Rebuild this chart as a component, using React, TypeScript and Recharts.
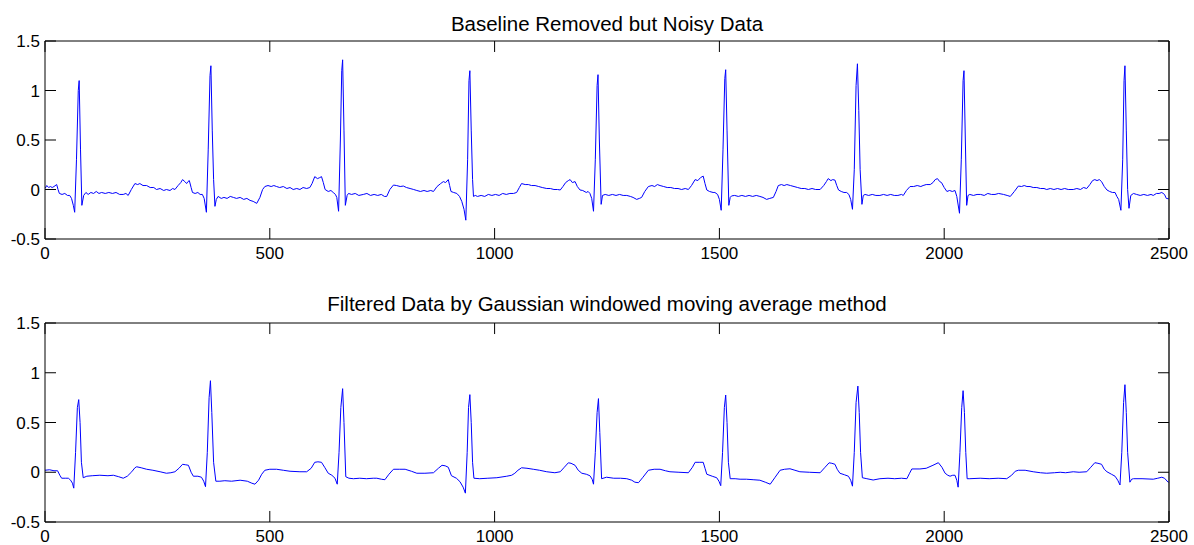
import React from 'react';
import { LineChart, Line, XAxis, YAxis, ReferenceLine } from 'recharts';

// sample index / amplitude pairs
const noisyPts: [number, number][] = [
  [0, 0.01], [4, 0.04], [8, 0.02], [12, 0.03], [16, 0.02], [20, 0.03], [26, 0.05], [29, 0.0], [32, -0.04], [38, -0.05],
  [44, -0.04], [50, -0.06], [55, -0.06], [59, -0.09], [63, -0.16], [66, -0.23], [70, 0.3], [74, 1.0], [76, 1.1], [79, 0.4],
  [82, -0.16], [86, -0.06], [91, -0.03], [96, -0.05], [102, -0.03], [108, -0.04], [114, -0.02], [120, -0.04], [126, -0.03], [134, -0.04],
  [142, -0.03], [150, -0.04], [158, -0.03], [166, -0.05], [174, -0.05], [180, -0.04], [185, -0.06], [192, 0.0], [200, 0.06], [206, 0.05],
  [211, 0.06], [218, 0.04], [226, 0.04], [234, 0.02], [242, 0.02], [248, 0.0], [256, 0.01], [264, -0.01], [270, 0.0], [278, -0.01],
  [284, 0.01], [289, 0.0], [296, 0.04], [302, 0.07], [306, 0.1], [311, 0.08], [315, 0.06], [318, 0.08], [321, 0.09], [325, 0.02],
  [328, -0.03], [334, -0.04], [340, -0.03], [345, -0.05], [350, -0.05], [354, -0.09], [359, -0.23], [363, 0.4], [367, 1.15], [369, 1.25],
  [372, 0.6], [375, 0.1], [378, -0.17], [381, -0.1], [385, -0.07], [392, -0.09], [398, -0.08], [405, -0.09], [412, -0.07], [419, -0.08],
  [426, -0.09], [434, -0.08], [442, -0.1], [449, -0.09], [456, -0.11], [463, -0.12], [471, -0.14], [478, -0.08], [484, 0.0], [489, 0.03],
  [496, 0.04], [503, 0.03], [509, 0.04], [515, 0.03], [522, 0.02], [530, 0.03], [538, 0.01], [545, 0.02], [552, 0.0], [560, 0.01],
  [567, 0.0], [574, 0.02], [582, 0.01], [589, 0.02], [594, 0.06], [600, 0.13], [606, 0.11], [611, 0.12], [615, 0.13], [619, 0.07],
  [623, 0.0], [630, -0.02], [636, -0.01], [641, -0.03], [646, -0.05], [649, -0.08], [653, -0.22], [657, 0.5], [660, 1.2], [662, 1.31],
  [665, 0.6], [668, -0.16], [672, -0.06], [675, -0.04], [682, -0.05], [690, -0.04], [698, -0.06], [708, -0.05], [716, -0.04], [724, -0.06],
  [732, -0.05], [740, -0.06], [748, -0.05], [755, -0.07], [760, -0.07], [767, 0.0], [775, 0.045], [782, 0.04], [790, 0.03], [797, 0.035],
  [804, 0.02], [812, 0.01], [820, 0.0], [827, -0.01], [835, -0.02], [843, -0.01], [850, -0.02], [858, -0.01], [864, -0.02], [872, 0.03],
  [880, 0.06], [886, 0.08], [891, 0.07], [897, 0.1], [900, 0.04], [903, -0.02], [909, -0.03], [916, -0.04], [922, -0.07], [927, -0.12],
  [932, -0.2], [936, -0.31], [940, 0.3], [943, 1.1], [945, 1.2], [948, 0.6], [951, 0.1], [953, -0.07], [957, -0.06], [962, -0.07],
  [970, -0.06], [978, -0.07], [986, -0.05], [994, -0.06], [1002, -0.05], [1010, -0.06], [1018, -0.04], [1026, -0.05], [1034, -0.04], [1042, -0.04],
  [1049, -0.03], [1055, 0.02], [1060, 0.06], [1068, 0.05], [1075, 0.05], [1082, 0.04], [1090, 0.04], [1098, 0.03], [1106, 0.02], [1116, 0.01],
  [1124, 0.01], [1132, 0.0], [1140, 0.0], [1146, -0.005], [1152, 0.03], [1158, 0.07], [1164, 0.09], [1168, 0.1], [1173, 0.07], [1179, 0.08],
  [1184, 0.03], [1190, -0.005], [1196, -0.01], [1204, -0.03], [1208, -0.02], [1212, -0.04], [1216, -0.09], [1220, -0.22], [1224, 0.3], [1228, 1.05],
  [1230, 1.16], [1233, 0.5], [1237, -0.15], [1240, -0.06], [1246, -0.05], [1254, -0.06], [1262, -0.05], [1270, -0.06], [1278, -0.05], [1286, -0.06],
  [1294, -0.06], [1302, -0.07], [1308, -0.08], [1316, -0.1], [1322, -0.09], [1327, -0.08], [1334, -0.02], [1342, 0.03], [1350, 0.04], [1356, 0.03],
  [1362, 0.05], [1368, 0.04], [1376, 0.03], [1384, 0.02], [1392, 0.02], [1400, 0.01], [1408, 0.01], [1416, 0.0], [1424, 0.01], [1431, 0.0],
  [1438, 0.04], [1446, 0.1], [1452, 0.09], [1458, 0.12], [1464, 0.135], [1468, 0.06], [1472, -0.005], [1478, -0.02], [1486, -0.03], [1490, -0.03],
  [1496, -0.05], [1500, -0.1], [1504, -0.21], [1508, 0.4], [1512, 1.12], [1514, 1.21], [1517, 0.6], [1521, -0.16], [1524, -0.08], [1527, -0.065],
  [1534, -0.06], [1542, -0.07], [1550, -0.06], [1558, -0.07], [1566, -0.06], [1574, -0.07], [1582, -0.06], [1590, -0.07], [1597, -0.08], [1605, -0.1],
  [1612, -0.09], [1620, -0.08], [1626, -0.02], [1631, 0.04], [1638, 0.05], [1644, 0.04], [1650, 0.05], [1658, 0.04], [1666, 0.03], [1674, 0.02],
  [1682, 0.01], [1690, 0.01], [1698, 0.0], [1706, 0.01], [1714, 0.0], [1724, 0.0], [1732, 0.04], [1738, 0.08], [1742, 0.11], [1748, 0.09],
  [1752, 0.1], [1757, 0.095], [1761, 0.04], [1765, -0.005], [1771, -0.02], [1777, -0.03], [1783, -0.03], [1788, -0.05], [1792, -0.1], [1796, -0.2],
  [1800, 0.2], [1804, 1.05], [1807, 1.27], [1810, 0.8], [1813, 0.2], [1817, -0.15], [1820, -0.06], [1824, -0.05], [1832, -0.06], [1840, -0.05],
  [1848, -0.06], [1857, -0.06], [1865, -0.05], [1873, -0.06], [1881, -0.05], [1889, -0.06], [1897, -0.06], [1905, -0.05], [1909, -0.06], [1916, -0.01],
  [1924, 0.03], [1932, 0.03], [1940, 0.04], [1948, 0.03], [1953, 0.04], [1960, 0.05], [1969, 0.05], [1975, 0.07], [1980, 0.1], [1985, 0.11],
  [1990, 0.08], [1994, 0.07], [2000, 0.02], [2006, -0.02], [2012, -0.01], [2018, -0.02], [2024, -0.01], [2028, -0.07], [2034, -0.24], [2038, 0.3],
  [2042, 1.1], [2044, 1.2], [2047, 0.5], [2050, -0.16], [2053, -0.06], [2057, -0.05], [2065, -0.06], [2073, -0.05], [2081, -0.05], [2089, -0.06],
  [2097, -0.04], [2105, -0.05], [2113, -0.05], [2121, -0.04], [2132, -0.05], [2140, -0.06], [2147, -0.07], [2156, -0.02], [2165, 0.035], [2172, 0.03],
  [2178, 0.04], [2184, 0.03], [2191, 0.03], [2198, 0.02], [2206, 0.02], [2214, 0.01], [2222, 0.01], [2228, 0.0], [2236, 0.01], [2244, 0.0],
  [2252, 0.01], [2260, 0.0], [2268, 0.01], [2276, 0.0], [2287, 0.0], [2295, 0.01], [2303, 0.0], [2310, 0.02], [2317, 0.01], [2324, 0.05],
  [2330, 0.09], [2335, 0.1], [2340, 0.09], [2345, 0.1], [2350, 0.08], [2356, 0.03], [2362, -0.005], [2368, -0.02], [2374, -0.03], [2380, -0.03],
  [2384, -0.07], [2388, -0.1], [2393, -0.21], [2397, 0.3], [2400, 1.1], [2402, 1.25], [2405, 0.6], [2408, 0.0], [2411, -0.19], [2415, -0.06],
  [2421, -0.04], [2428, -0.05], [2436, -0.06], [2444, -0.05], [2452, -0.06], [2460, -0.05], [2465, -0.06], [2472, -0.04], [2478, -0.04], [2484, -0.03],
  [2490, -0.05], [2494, -0.09], [2500, -0.095],
];

const filteredPts: [number, number][] = [
  [0, 0.02], [10, 0.025], [20, 0.015], [28, 0.015], [33, -0.03], [37, -0.06], [45, -0.06], [52, -0.06], [57, -0.08], [61, -0.11],
  [64, -0.16], [68, 0.2], [72, 0.65], [75, 0.73], [78, 0.5], [81, 0.1], [85, -0.055], [93, -0.04], [105, -0.035], [122, -0.03],
  [140, -0.035], [152, -0.03], [164, -0.045], [174, -0.06], [183, -0.04], [193, 0.005], [200, 0.045], [204, 0.055], [214, 0.045], [226, 0.03],
  [240, 0.02], [256, 0.005], [270, -0.01], [280, -0.005], [289, 0.005], [298, 0.04], [306, 0.08], [313, 0.075], [319, 0.07], [325, 0.0],
  [330, -0.04], [340, -0.04], [348, -0.05], [353, -0.09], [357, -0.145], [361, 0.2], [365, 0.75], [368, 0.92], [371, 0.6], [375, 0.1],
  [380, -0.09], [389, -0.09], [400, -0.085], [415, -0.09], [434, -0.08], [450, -0.09], [460, -0.11], [467, -0.12], [475, -0.08], [482, -0.02],
  [489, 0.02], [500, 0.03], [515, 0.03], [530, 0.02], [545, 0.01], [567, 0.005], [582, 0.005], [592, 0.04], [600, 0.1], [607, 0.105],
  [615, 0.1], [622, 0.05], [630, -0.01], [638, -0.03], [645, -0.06], [650, -0.12], [654, 0.2], [658, 0.65], [662, 0.84], [665, 0.5],
  [669, -0.045], [676, -0.06], [686, -0.065], [700, -0.06], [715, -0.065], [730, -0.06], [738, -0.06], [748, -0.07], [756, -0.075], [765, -0.02],
  [775, 0.03], [788, 0.03], [801, 0.03], [815, 0.01], [827, -0.01], [845, -0.01], [864, -0.005], [875, 0.04], [883, 0.07], [890, 0.065],
  [897, 0.05], [904, -0.035], [915, -0.06], [923, -0.095], [930, -0.15], [935, -0.21], [939, 0.2], [942, 0.65], [945, 0.78], [948, 0.5],
  [951, 0.1], [954, -0.06], [967, -0.065], [985, -0.06], [1005, -0.055], [1027, -0.04], [1038, -0.03], [1045, -0.01], [1052, 0.02], [1060, 0.045],
  [1072, 0.04], [1086, 0.03], [1100, 0.02], [1116, 0.005], [1134, -0.005], [1146, 0.005], [1155, 0.05], [1164, 0.095], [1170, 0.09], [1179, 0.07],
  [1186, 0.02], [1194, -0.01], [1204, -0.02], [1212, -0.035], [1217, -0.07], [1220, -0.12], [1224, 0.2], [1228, 0.6], [1231, 0.74], [1234, 0.4],
  [1238, -0.065], [1249, -0.05], [1265, -0.06], [1280, -0.06], [1294, -0.065], [1305, -0.08], [1312, -0.1], [1320, -0.105], [1330, -0.05], [1342, 0.02],
  [1355, 0.03], [1368, 0.03], [1380, 0.015], [1390, 0.005], [1410, 0.0], [1431, -0.005], [1440, 0.05], [1446, 0.1], [1455, 0.1], [1464, 0.1],
  [1468, 0.04], [1472, -0.02], [1484, -0.04], [1494, -0.055], [1499, -0.09], [1503, -0.135], [1507, 0.2], [1511, 0.65], [1514, 0.776], [1517, 0.5],
  [1520, 0.1], [1524, -0.065], [1535, -0.065], [1546, -0.07], [1560, -0.07], [1575, -0.075], [1590, -0.08], [1602, -0.1], [1613, -0.12], [1624, -0.05],
  [1635, 0.02], [1645, 0.03], [1657, 0.035], [1668, 0.02], [1679, 0.005], [1700, 0.0], [1724, -0.005], [1735, 0.05], [1744, 0.095], [1750, 0.09],
  [1757, 0.08], [1762, 0.03], [1768, -0.01], [1778, -0.025], [1787, -0.04], [1792, -0.08], [1796, -0.14], [1800, 0.2], [1804, 0.7], [1808, 0.866],
  [1811, 0.6], [1814, 0.2], [1818, -0.055], [1828, -0.065], [1842, -0.078], [1857, -0.065], [1875, -0.06], [1890, -0.065], [1905, -0.06], [1917, -0.065],
  [1923, -0.01], [1928, 0.033], [1946, 0.033], [1960, 0.04], [1975, 0.07], [1987, 0.096], [1995, 0.05], [2002, -0.01], [2008, -0.03], [2013, -0.04],
  [2019, -0.03], [2024, -0.03], [2028, -0.08], [2031, -0.15], [2035, 0.2], [2039, 0.65], [2042, 0.82], [2045, 0.6], [2048, 0.2], [2051, -0.065],
  [2057, -0.065], [2080, -0.06], [2100, -0.065], [2120, -0.06], [2139, -0.065], [2150, -0.03], [2158, 0.01], [2165, 0.02], [2180, 0.02], [2198, 0.005],
  [2214, -0.005], [2228, -0.01], [2245, -0.005], [2258, 0.0], [2270, -0.005], [2287, 0.005], [2300, 0.0], [2317, 0.005], [2326, 0.05], [2335, 0.096],
  [2342, 0.09], [2350, 0.08], [2356, 0.03], [2362, 0.005], [2372, -0.02], [2380, -0.04], [2386, -0.08], [2391, -0.128], [2395, 0.2], [2399, 0.7],
  [2402, 0.88], [2405, 0.6], [2408, 0.2], [2413, -0.1], [2417, -0.07], [2421, -0.065], [2440, -0.065], [2465, -0.07], [2475, -0.06], [2484, -0.05],
  [2490, -0.06], [2498, -0.1], [2500, -0.1],
];

const xTicks = [0, 500, 1000, 1500, 2000, 2500];
const yTicks = [-0.5, 0, 0.5, 1, 1.5];
const titles = ['Baseline Removed but Noisy Data', 'Filtered Data by Gaussian windowed moving average method'];

const FONT = '"Liberation Sans", Arial, sans-serif';
const TICK_LEN = 11;
// same tick length expressed in data units (plot is ~1124 x 198 px)
const TICK_DX = 24.5;
const TICK_DY = 0.111;

const BottomTick = (props: any) => {
  const { x, y, payload } = props;
  return (
    <text x={x} y={y + 19.5} textAnchor="middle" fontSize={17} fontFamily={FONT} fill="#000">
      {payload.value}
    </text>
  );
};

const LeftTick = (props: any) => {
  const { x, y, payload } = props;
  return (
    <g>
      <line x1={x} y1={y} x2={x + TICK_LEN} y2={y} stroke="#000" />
      <text x={x - 5} y={y + 6} textAnchor="end" fontSize={17} fontFamily={FONT} fill="#000">
        {payload.value}
      </text>
    </g>
  );
};

function Panel({ pts, height, top, bottom }: { pts: [number, number][]; height: number; top: number; bottom: number }) {
  const data = pts.map(([x, v]) => ({ x, v }));
  return (
    <LineChart width={1194} height={height} data={data} margin={{ top, right: 25, bottom: 0, left: 0 }}>
      <XAxis
        dataKey="x"
        type="number"
        domain={[0, 2500]}
        ticks={xTicks}
        interval={0}
        allowDataOverflow
        height={bottom}
        tickSize={0}
        tickMargin={0}
        tickLine={false}
        axisLine={{ stroke: '#000' }}
        tick={<BottomTick />}
      />
      <YAxis
        type="number"
        domain={[-0.5, 1.5]}
        ticks={yTicks}
        interval={0}
        allowDataOverflow
        width={45}
        tickSize={0}
        tickMargin={0}
        tickLine={false}
        axisLine={{ stroke: '#000' }}
        tick={<LeftTick />}
      />
      <Line
        dataKey="v"
        type="linear"
        stroke="#0000ff"
        strokeWidth={1}
        dot={false}
        activeDot={false}
        isAnimationActive={false}
      />
      {/* box: top and right edges */}
      <ReferenceLine y={1.5} stroke="#000" ifOverflow="visible" />
      <ReferenceLine x={2500} stroke="#222" strokeWidth={1.5} ifOverflow="visible" />
      {/* inward ticks on bottom, top and right edges */}
      {xTicks.map((t) => (
        <ReferenceLine
          key={`b${t}`}
          segment={[{ x: t, y: -0.5 }, { x: t, y: -0.5 + TICK_DY }]}
          stroke="#000"
          ifOverflow="visible"
        />
      ))}
      {xTicks.map((t) => (
        <ReferenceLine
          key={`t${t}`}
          segment={[{ x: t, y: 1.5 }, { x: t, y: 1.5 - TICK_DY }]}
          stroke="#000"
          ifOverflow="visible"
        />
      ))}
      {yTicks.map((t) => (
        <ReferenceLine
          key={`r${t}`}
          segment={[{ x: 2500, y: t }, { x: 2500 - TICK_DX, y: t }]}
          stroke="#000"
          ifOverflow="visible"
        />
      ))}
    </LineChart>
  );
}

export default function App() {
  return (
    <div style={{ position: 'absolute', left: 0, top: 0, width: 1194, height: 545, background: '#fff' }}>
      <div style={{ position: 'absolute', left: 0, top: 0 }}>
        <Panel pts={noisyPts} height={272} top={41} bottom={33} />
      </div>
      <div style={{ position: 'absolute', left: 0, top: 280 }}>
        <Panel pts={filteredPts} height={265} top={43} bottom={23} />
      </div>
      <svg width={1194} height={545} style={{ position: 'absolute', left: 0, top: 0, pointerEvents: 'none' }}>
        <text x={607} y={31} textAnchor="middle" fontSize={20.5} fontFamily={FONT} fill="#000">
          {titles[0]}
        </text>
        <text x={607} y={311} textAnchor="middle" fontSize={20.5} fontFamily={FONT} fill="#000">
          {titles[1]}
        </text>
      </svg>
    </div>
  );
}
